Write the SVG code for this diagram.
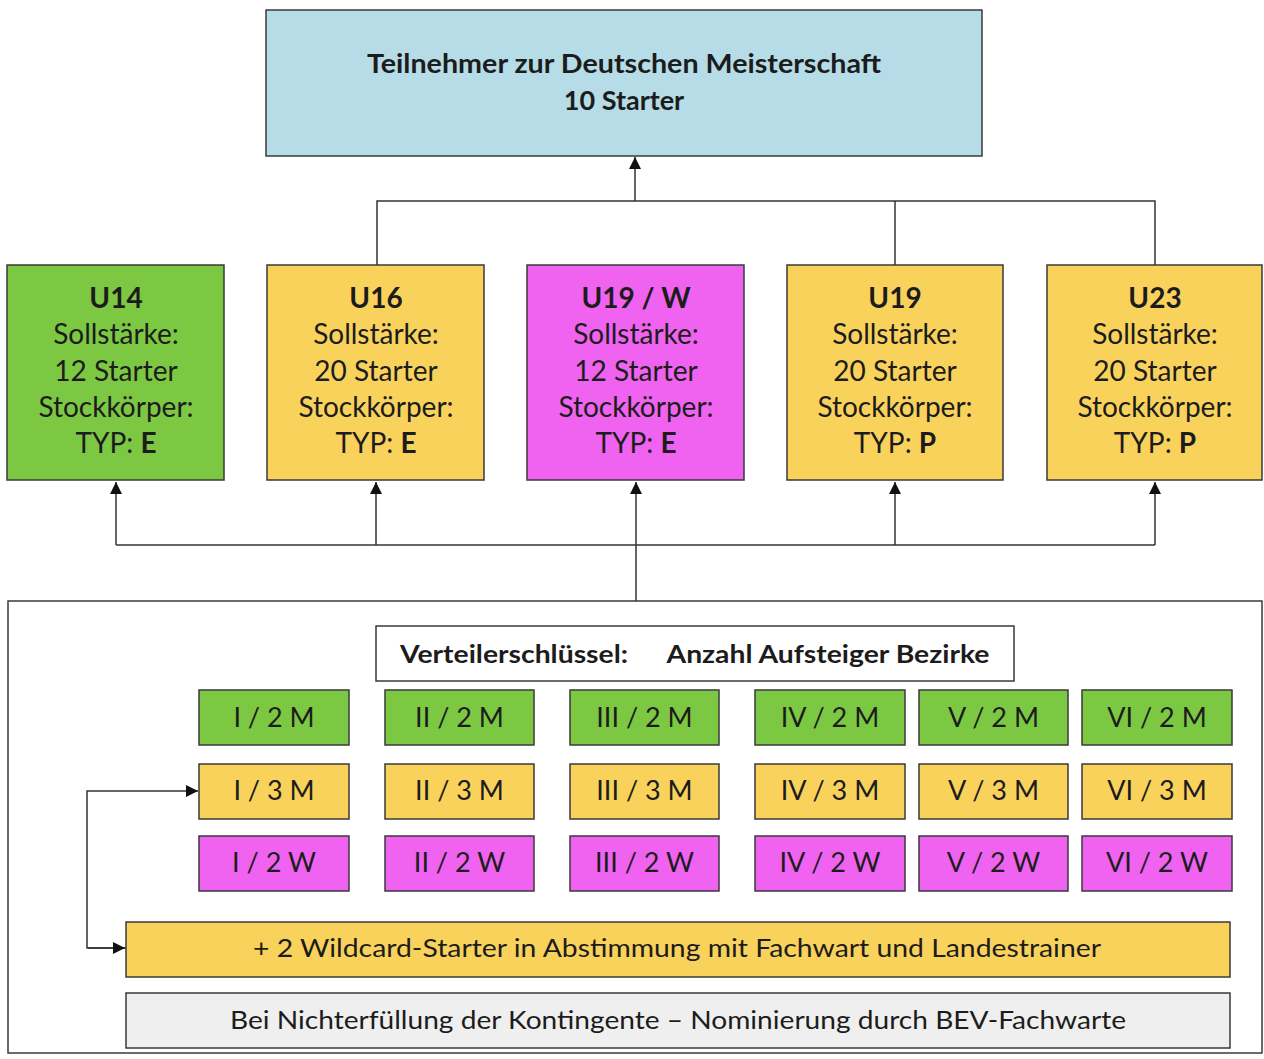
<svg xmlns="http://www.w3.org/2000/svg" width="1264" height="1059" viewBox="0 0 1264 1059">
<defs>
<marker id="ah" viewBox="0 0 12 12" refX="12" refY="6" markerWidth="12" markerHeight="12" markerUnits="userSpaceOnUse" orient="auto">
<path d="M0,0 L12,6 L0,12 z" fill="#111"/>
</marker>
<style>
text{font-family:Lato,"Open Sans","Liberation Sans",sans-serif;fill:#1c1c1c;text-anchor:middle}
.b{font-weight:bold}
.box{stroke:#3a3a3a;stroke-width:1.5}
.blue{fill:#b5dce7}
.green{fill:#7dc843}
.yellow{fill:#f9d25c}
.mag{fill:#f063f0}
.white{fill:#ffffff}
.gray{fill:#efefef}
.big{font-size:28px}
.cell{font-size:27px}
.conn{fill:none;stroke:#333;stroke-width:1.5}
</style>
</defs>
<rect width="1264" height="1059" fill="#ffffff"/>

<g id="connectors">
<path class="conn" d="M377,265 V201 H1155 V265"/>
<path class="conn" d="M895,201 V265"/>
<path class="conn" d="M635,201 V157" marker-end="url(#ah)"/>
<path class="conn" d="M116,545 H1155"/>
<path class="conn" d="M116,545 V482" marker-end="url(#ah)"/>
<path class="conn" d="M376,545 V482" marker-end="url(#ah)"/>
<path class="conn" d="M636,601 V482" marker-end="url(#ah)"/>
<path class="conn" d="M895,545 V482" marker-end="url(#ah)"/>
<path class="conn" d="M1155,545 V482" marker-end="url(#ah)"/>
<path class="conn" d="M126,948 H87 V791 H198" marker-end="url(#ah)"/>
<path class="conn" d="M88,948 H125" marker-end="url(#ah)"/>
</g>

<g id="top">
<rect class="box blue" x="266" y="10" width="716" height="146"/>
<text class="b" x="624" y="73" font-size="27" textLength="514" lengthAdjust="spacingAndGlyphs">Teilnehmer zur Deutschen Meisterschaft</text>
<text class="b" x="624" y="110" font-size="27">10 Starter</text>
</g>

<g id="u14">
<rect class="box green" x="7" y="265" width="217" height="215"/>
<text class="big b" x="116" y="308">U14</text>
<text class="big" x="116" y="344">Sollstärke:</text>
<text class="big" x="116" y="381">12 Starter</text>
<text class="big" x="116" y="417">Stockkörper:</text>
<text class="big" x="116" y="453">TYP: <tspan class="b">E</tspan></text>
</g>
<g id="u16">
<rect class="box yellow" x="267" y="265" width="217" height="215"/>
<text class="big b" x="376" y="308">U16</text>
<text class="big" x="376" y="344">Sollstärke:</text>
<text class="big" x="376" y="381">20 Starter</text>
<text class="big" x="376" y="417">Stockkörper:</text>
<text class="big" x="376" y="453">TYP: <tspan class="b">E</tspan></text>
</g>
<g id="u19w">
<rect class="box mag" x="527" y="265" width="217" height="215"/>
<text class="big b" x="636" y="308">U19 / W</text>
<text class="big" x="636" y="344">Sollstärke:</text>
<text class="big" x="636" y="381">12 Starter</text>
<text class="big" x="636" y="417">Stockkörper:</text>
<text class="big" x="636" y="453">TYP: <tspan class="b">E</tspan></text>
</g>
<g id="u19">
<rect class="box yellow" x="787" y="265" width="216" height="215"/>
<text class="big b" x="895" y="308">U19</text>
<text class="big" x="895" y="344">Sollstärke:</text>
<text class="big" x="895" y="381">20 Starter</text>
<text class="big" x="895" y="417">Stockkörper:</text>
<text class="big" x="895" y="453">TYP: <tspan class="b">P</tspan></text>
</g>
<g id="u23">
<rect class="box yellow" x="1047" y="265" width="215" height="215"/>
<text class="big b" x="1155" y="308">U23</text>
<text class="big" x="1155" y="344">Sollstärke:</text>
<text class="big" x="1155" y="381">20 Starter</text>
<text class="big" x="1155" y="417">Stockkörper:</text>
<text class="big" x="1155" y="453">TYP: <tspan class="b">P</tspan></text>
</g>

<g id="outer">
<rect x="8" y="601" width="1254" height="452" fill="none" stroke="#3a3a3a" stroke-width="1.5"/>
</g>

<g id="key">
<rect class="box white" x="376" y="626" width="638" height="55"/>
<text class="b" x="514" y="663" font-size="25" textLength="228" lengthAdjust="spacingAndGlyphs">Verteilerschlüssel:</text>
<text class="b" x="828" y="663" font-size="25" textLength="323" lengthAdjust="spacingAndGlyphs">Anzahl Aufsteiger Bezirke</text>
</g>

<g id="grid">
<g id="r1">
<rect class="box green" x="199" y="690" width="150" height="55"/><text class="cell" x="274" y="727">I / 2 M</text>
<rect class="box green" x="385" y="690" width="149" height="55"/><text class="cell" x="459.5" y="727">II / 2 M</text>
<rect class="box green" x="570" y="690" width="149" height="55"/><text class="cell" x="644.5" y="727">III / 2 M</text>
<rect class="box green" x="755" y="690" width="150" height="55"/><text class="cell" x="830" y="727">IV / 2 M</text>
<rect class="box green" x="919" y="690" width="149" height="55"/><text class="cell" x="993.5" y="727">V / 2 M</text>
<rect class="box green" x="1082" y="690" width="150" height="55"/><text class="cell" x="1157" y="727">VI / 2 M</text>
</g>
<g id="r2">
<rect class="box yellow" x="199" y="764" width="150" height="55"/><text class="cell" x="274" y="800">I / 3 M</text>
<rect class="box yellow" x="385" y="764" width="149" height="55"/><text class="cell" x="459.5" y="800">II / 3 M</text>
<rect class="box yellow" x="570" y="764" width="149" height="55"/><text class="cell" x="644.5" y="800">III / 3 M</text>
<rect class="box yellow" x="755" y="764" width="150" height="55"/><text class="cell" x="830" y="800">IV / 3 M</text>
<rect class="box yellow" x="919" y="764" width="149" height="55"/><text class="cell" x="993.5" y="800">V / 3 M</text>
<rect class="box yellow" x="1082" y="764" width="150" height="55"/><text class="cell" x="1157" y="800">VI / 3 M</text>
</g>
<g id="r3">
<rect class="box mag" x="199" y="836" width="150" height="55"/><text class="cell" x="274" y="872">I / 2 W</text>
<rect class="box mag" x="385" y="836" width="149" height="55"/><text class="cell" x="459.5" y="872">II / 2 W</text>
<rect class="box mag" x="570" y="836" width="149" height="55"/><text class="cell" x="644.5" y="872">III / 2 W</text>
<rect class="box mag" x="755" y="836" width="150" height="55"/><text class="cell" x="830" y="872">IV / 2 W</text>
<rect class="box mag" x="919" y="836" width="149" height="55"/><text class="cell" x="993.5" y="872">V / 2 W</text>
<rect class="box mag" x="1082" y="836" width="150" height="55"/><text class="cell" x="1157" y="872">VI / 2 W</text>
</g>
</g>

<g id="wildcard">
<rect class="box yellow" x="126" y="922" width="1104" height="55"/>
<text x="677" y="957" font-size="25" textLength="848" lengthAdjust="spacingAndGlyphs">+ 2 Wildcard-Starter in Abstimmung mit Fachwart und Landestrainer</text>
</g>

<g id="fallback">
<rect class="box gray" x="126" y="993" width="1104" height="55"/>
<text x="678" y="1029" font-size="25" textLength="896" lengthAdjust="spacingAndGlyphs">Bei Nichterfüllung der Kontingente – Nominierung durch BEV-Fachwarte</text>
</g>
</svg>
